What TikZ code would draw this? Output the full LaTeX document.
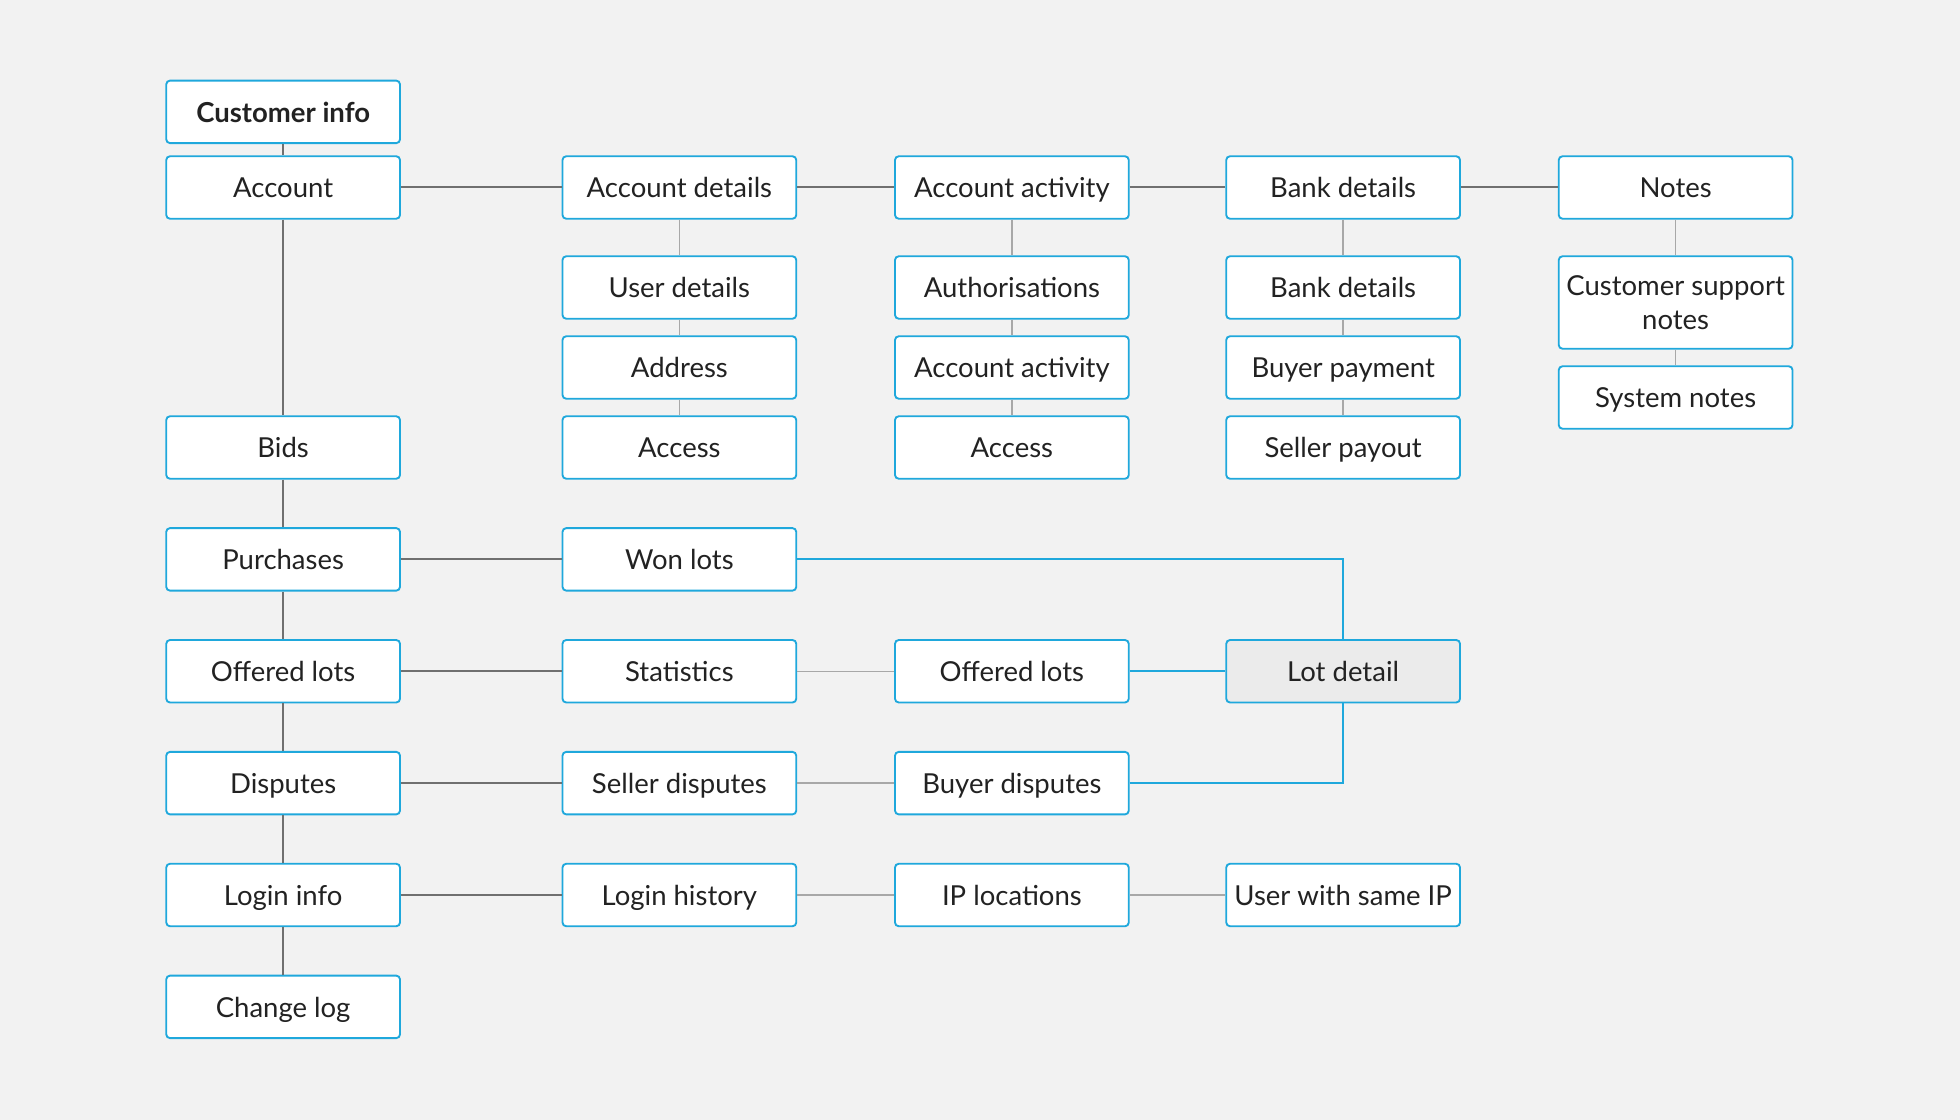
\documentclass[tikz,border=0pt]{standalone}
\usepackage{fontspec}
\setmainfont{Lato}
\usetikzlibrary{positioning}

\definecolor{pagebg}{HTML}{F2F2F2}
\definecolor{boxblue}{HTML}{1FA8DC}
\definecolor{trunkgray}{HTML}{707070}
\definecolor{branchgray}{HTML}{A8A8A8}
\definecolor{lotfill}{HTML}{EBEBEB}
\definecolor{txt}{HTML}{222222}
\newcommand\itemfont{\fontsize{22}{27}\selectfont}

\tikzset{
  item/.style={draw=boxblue,line width=1.5pt,fill=white,rounded corners=3pt,
    minimum width=187pt,minimum height=50pt,inner sep=2pt,text=txt,font=\itemfont,
    text height=18pt,text depth=1.5pt},
  trunk/.style={draw=trunkgray,line width=1.6pt},
  branch/.style={draw=branchgray,line width=1.2pt},
  link/.style={draw=boxblue,line width=1.5pt},
}

\begin{document}
\begin{tikzpicture}[x=1pt,y=-1pt,on grid,node distance=89.5pt]
        \fill[pagebg] (0,0) rectangle (1568,896);
        % left column
        \node[item,font=\itemfont\bfseries] (cust) at (226.5,89.5) {Customer info};
        \node[item] (acc) [below=60.5pt of cust] {Account};
        \node[item] (bids) [below=208pt of acc] {Bids};
        \node[item] (purch) [below=of bids] {Purchases};
        \node[item] (offer) [below=of purch] {Offered lots};
        \node[item] (disp) [below=of offer] {Disputes};
        \node[item] (login) [below=of disp] {Login info};
        \node[item] (chlog) [below=of login] {Change log};
        % account branch
        \node[item] (accdet) [right=317pt of acc] {Account details};
        \node[item] (user) [below=80pt of accdet] {User details};
        \node[item] (addr) [below=64pt of user] {Address};
        \node[item] (access) [below=64pt of addr] {Access};
        \node[item] (accact) [right=266pt of accdet] {Account activity};
        \node[item] (auth) [below=80pt of accact] {Authorisations};
        \node[item] (actlist) [below=64pt of auth] {Account activity};
        \node[item] (actaccess) [below=64pt of actlist] {Access};
        \node[item] (bank) [right=265pt of accact] {Bank details};
        \node[item] (banklist) [below=80pt of bank] {Bank details};
        \node[item] (pay) [below=64pt of banklist] {Buyer payment};
        \node[item] (payout) [below=64pt of pay] {Seller payout};
        \node[item] (notes) [right=266pt of bank] {Notes};
        \node[item,minimum height=74pt,align=center,text height=,text depth=] (csnotes) [below=92pt of notes] {Customer support\\notes};
        \node[item] (sysnotes) [below=76pt of csnotes] {System notes};
        % lower rows
        \node[item] (won) [right=317pt of purch] {Won lots};
        \node[item] (stats) [right=317pt of offer] {Statistics};
        \node[item] (olots) [right=266pt of stats] {Offered lots};
        \node[item,fill=lotfill] (lot) [right=265pt of olots] {Lot detail};
        \node[item] (sdisp) [right=317pt of disp] {Seller disputes};
        \node[item] (bdisp) [right=266pt of sdisp] {Buyer disputes};
        \node[item] (lhist) [right=317pt of login] {Login history};
        \node[item] (iploc) [right=266pt of lhist] {IP locations};
        \node[item] (sameip) [right=265pt of iploc] {User with same IP};

        \path[trunk]
        (cust) edge (acc)
        (acc) edge (bids)
        (bids) edge (purch)
        (purch) edge (offer)
        (offer) edge (disp)
        (disp) edge (login)
        (login) edge (chlog)
        (acc) edge (accdet)
        (accdet) edge (accact)
        (accact) edge (bank)
        (bank) edge (notes)
        (purch) edge (won)
        (offer) edge (stats)
        (disp) edge (sdisp)
        (login) edge (lhist);
        \path[branch]
        (accdet) edge (user)
        (user) edge (addr)
        (addr) edge (access)
        (accact) edge (auth)
        (auth) edge (actlist)
        (actlist) edge (actaccess)
        (bank) edge (banklist)
        (banklist) edge (pay)
        (pay) edge (payout)
        (notes) edge (csnotes)
        (csnotes) edge (sysnotes)
        (stats) edge (olots)
        (sdisp) edge (bdisp)
        (lhist) edge (iploc)
        (iploc) edge (sameip);
        \draw[link] (won) -| (lot);
        \draw[link] (olots) -- (lot);
        \draw[link] (bdisp) -| (lot);
\end{tikzpicture}
\end{document}
